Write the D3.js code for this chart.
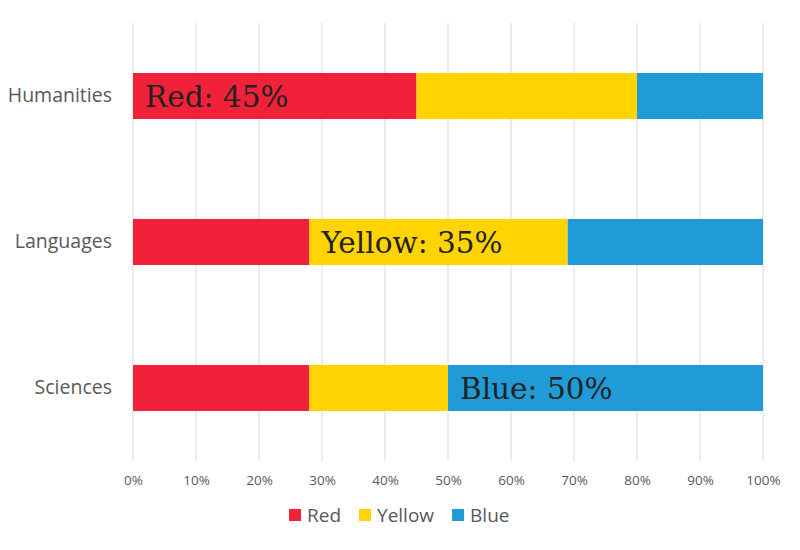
<!DOCTYPE html>
<html>
<head>
<meta charset="utf-8">
<script src="https://cdn.jsdelivr.net/npm/d3@7"></script>
<style>
  body { margin: 0; background: #fff; }
  svg { display: block; }
</style>
</head>
<body>
<svg id="chart"></svg>
<script>
const categories = ["Humanities", "Languages", "Sciences"];
const seriesNames = ["Red", "Yellow", "Blue"];
const redValues = [45, 28, 28];
const yellowValues = [35, 41, 22];
const blueValues = [20, 31, 50];
const xTicks = [0, 10, 20, 30, 40, 50, 60, 70, 80, 90, 100];
const annotations = [
    { category: "Humanities", series: "Red", text: "Red: 45%" },
    { category: "Languages", series: "Yellow", text: "Yellow: 35%" },
    { category: "Sciences", series: "Blue", text: "Blue: 50%" }
];
const colors = ["#F2213A", "#FFD400", "#1F9BD7"];

const width = 800, height = 550;
const margin = { top: 23, right: 37, bottom: 89, left: 133 };

const svg = d3.select("#chart").attr("width", width).attr("height", height);

const rows = categories.map((c, i) => ({
    category: c, Red: redValues[i], Yellow: yellowValues[i], Blue: blueValues[i]
}));
const stacked = d3.stack().keys(seriesNames)(rows);

const x = d3.scaleLinear().domain([0, 100]).range([margin.left, width - margin.right]);
const y = d3.scaleBand().domain(categories)
    .range([margin.top, height - margin.bottom])
    .paddingInner(0.685).paddingOuter(0.3425);
const color = d3.scaleOrdinal().domain(seriesNames).range(colors);

// gridlines
svg.append("g")
    .attr("class", "grid")
    .selectAll("line")
    .data(xTicks)
    .enter().append("line")
        .attr("x1", d => x(d)).attr("x2", d => x(d))
        .attr("y1", margin.top).attr("y2", height - margin.bottom)
        .attr("stroke", "#d9d9d9").attr("stroke-width", 1);

// bars
svg.append("g")
    .selectAll("g")
    .data(stacked)
    .enter().append("g")
        .attr("fill", d => color(d.key))
    .selectAll("rect")
    .data(d => d)
    .enter().append("rect")
        .attr("x", d => x(d[0]))
        .attr("y", d => y(d.data.category))
        .attr("width", d => x(d[1]) - x(d[0]))
        .attr("height", y.bandwidth());

// x axis
const xAxis = svg.append("g")
    .attr("transform", `translate(0,${height - margin.bottom})`)
    .call(d3.axisBottom(x).tickValues(xTicks).tickFormat(d => d + "%").tickSize(0).tickPadding(14));
xAxis.select(".domain").remove();
xAxis.selectAll("text")
    .attr("fill", "#595959")
    .style("font-family", "'Open Sans', sans-serif")
    .style("font-size", "13.5px");

// y axis
const yAxis = svg.append("g")
    .attr("transform", `translate(${margin.left},0)`)
    .call(d3.axisLeft(y).tickSize(0).tickPadding(21));
yAxis.select(".domain").remove();
yAxis.selectAll("text")
    .attr("fill", "#595959")
    .style("font-family", "'Open Sans', sans-serif")
    .style("font-size", "19.5px");

// annotations inside segments
svg.append("g")
    .selectAll("text")
    .data(annotations)
    .enter().append("text")
        .attr("x", d => {
            const s = stacked[seriesNames.indexOf(d.series)];
            return x(s[categories.indexOf(d.category)][0]) + 12;
        })
        .attr("y", d => y(d.category) + y.bandwidth() / 2)
        .attr("dy", "0.36em")
        .attr("fill", "#222")
        .style("font-family", "'DejaVu Serif', serif")
        .style("font-size", "29.5px")
        .text(d => d.text);

// legend
const legendItems = seriesNames.map((n, i) => ({ name: n, color: colors[i] }));
const legend = svg.append("g").attr("transform", `translate(289,515)`);
let offset = 0;
legendItems.forEach(item => {
    const g = legend.append("g").attr("transform", `translate(${offset},0)`);
    g.append("rect").attr("x", 0).attr("y", -6).attr("width", 12).attr("height", 12)
        .attr("fill", item.color);
    const t = g.append("text").attr("x", 18).attr("dy", "0.35em")
        .attr("fill", "#595959")
        .style("font-family", "'Open Sans', sans-serif")
        .style("font-size", "19px")
        .text(item.name);
    offset += 18 + t.node().getComputedTextLength() + 18;
});
</script>
</body>
</html>
